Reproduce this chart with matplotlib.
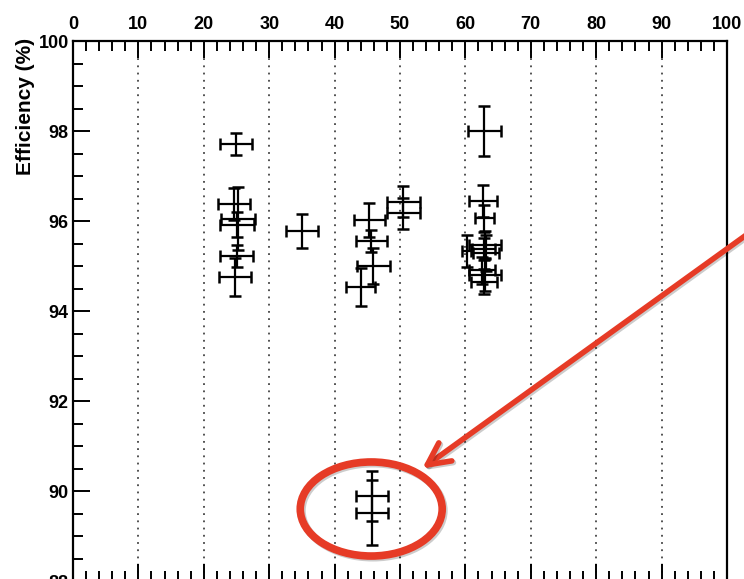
import numpy as np
import matplotlib.pyplot as plt
from matplotlib.patches import Ellipse
from matplotlib.ticker import MultipleLocator
import matplotlib.patheffects as pe

plt.rcParams['font.family'] = ['Liberation Sans', 'DejaVu Sans']

# efficiency measurements: x position, efficiency (%), errors
x_vals = [24.9, 24.6, 25.2, 25.1, 25.0, 24.8,
          35.0,
          50.5, 50.5, 45.3, 45.6, 45.9, 44.0,
          62.9, 62.7, 62.9, 60.2, 63.0, 62.8, 63.2, 62.6, 63.0, 62.8,
          45.7, 45.7]
eff_vals = [97.71, 96.38, 96.05, 95.92, 95.22, 94.76,
            95.78,
            96.43, 96.17, 96.02, 95.56, 95.00, 94.53,
            98.00, 96.45, 96.06, 95.34, 95.47, 95.38, 95.29, 94.91, 94.80, 94.65,
            89.89, 89.52]
x_err = [2.4, 2.4, 2.6, 2.6, 2.5, 2.4,
         2.45,
         2.5, 2.5, 2.4, 2.4, 2.5, 2.2,
         2.55, 2.2, 1.5, 0.7, 2.5, 1.8, 2.0, 2.0, 2.5, 2.0,
         2.47, 2.47]
eff_err = [0.25, 0.35, 0.70, 0.28, 0.25, 0.42,
           0.37,
           0.35, 0.35, 0.38, 0.25, 0.40, 0.42,
           0.56, 0.36, 0.30, 0.36, 0.30, 0.25, 0.40, 0.30, 0.35, 0.28,
           0.56, 0.73]

x_ticks = list(range(0, 101, 10))
y_ticks = [88, 90, 92, 94, 96, 98, 100]

fig = plt.figure(figsize=(7.44, 5.79), dpi=100)
ax = fig.add_axes([73 / 744, -2 / 579, 654 / 744, 540 / 579])

ax.errorbar(x_vals, eff_vals, xerr=x_err, yerr=eff_err, fmt='none',
            ecolor='black', elinewidth=1.6, capsize=4, capthick=1.8, zorder=3)

ax.set_xlim(0, 100)
ax.set_ylim(88, 100)
ax.set_xticks(x_ticks)
ax.set_yticks(y_ticks)
ax.xaxis.set_minor_locator(MultipleLocator(2))
ax.yaxis.set_minor_locator(MultipleLocator(0.5))

ax.tick_params(axis='both', which='both', direction='in', width=1.4,
               labelsize=13, colors='black')
ax.tick_params(which='major', length=12)
ax.tick_params(which='minor', length=7)
ax.tick_params(axis='x', which='both', top=True, bottom=True,
               labeltop=True, labelbottom=False, pad=6)
ax.tick_params(axis='y', which='both', left=True, right=False, pad=3)
for lab in ax.get_xticklabels() + ax.get_yticklabels():
    lab.set_fontweight('bold')

for s in ax.spines.values():
    s.set_linewidth(1.6)

ax.grid(axis='x', which='major', color='#444444', linestyle=(0, (1, 3)),
        linewidth=1.3)
ax.set_axisbelow(True)

ax.set_ylabel('Efficiency (%)', fontsize=15, fontweight='bold', loc='top')
ax.yaxis.set_label_coords(-0.058, 1.005)

# highlight of the low-efficiency pair
red = '#e63b26'
shadow = [pe.SimpleLineShadow(offset=(1.2, -1.2), alpha=0.2), pe.Normal()]
ell = Ellipse((45.6, 89.6), 21.7, 2.09, fill=False, edgecolor=red,
              linewidth=5.5, zorder=5, clip_on=False)
ell.set_path_effects(shadow)
ax.add_patch(ell)

arr = ax.annotate('', xy=(53.4, 90.5), xytext=(104, 95.8),
                  arrowprops=dict(arrowstyle='->,head_length=1.6,head_width=0.8',
                                  color=red, lw=4, shrinkA=0, shrinkB=0),
                  annotation_clip=False, zorder=5)
arr.arrow_patch.set_path_effects(shadow)

fig.savefig('out.png', dpi=100)
